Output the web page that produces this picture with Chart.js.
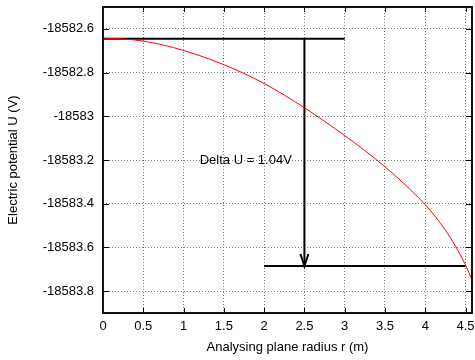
<!DOCTYPE html>
<html><head><meta charset="utf-8">
<script src="https://cdn.jsdelivr.net/npm/chart.js@4/dist/chart.umd.min.js"></script>
<style>html,body{margin:0;padding:0;background:#fff}#wrap{width:475px;height:360px}</style>
</head><body><div id="wrap"><canvas id="c" width="475" height="360"></canvas></div>
<script>
const radius = [0, 0.25, 0.5, 0.75, 1, 1.25, 1.5, 1.75, 2, 2.25, 2.5, 2.75, 3, 3.25, 3.5, 3.75, 4, 4.125, 4.25, 4.375, 4.5, 4.58];
const potential = [-18582.643, -18582.646, -18582.656, -18582.674, -18582.699, -18582.729, -18582.764, -18582.804, -18582.850, -18582.903, -18582.961, -18583.023, -18583.088, -18583.157, -18583.231, -18583.313, -18583.405, -18583.459, -18583.521, -18583.594, -18583.681, -18583.747];
const xTicks = [0, 0.5, 1, 1.5, 2, 2.5, 3, 3.5, 4, 4.5];
const yTicks = [-18583.8, -18583.6, -18583.4, -18583.2, -18583.0, -18582.8, -18582.6];
const xRange = [0, 4.58];
const yRange = [-18583.9, -18582.5];
const topLineX = [0, 3];
const topLineY = -18582.645;
const bottomLineX = [2, 4.5];
const bottomLineY = -18583.685;
const arrowX = 2.5;
const annotationText = 'Delta U = 1.04V';
const annotationX = 1.2;
const annotationY = -18583.2;
const xTitle = 'Analysing plane radius r (m)';
const yTitle = 'Electric potential U (V)';

const FONT = '"Liberation Sans", Arial, Helvetica, sans-serif';
Chart.defaults.font.family = FONT;
Chart.defaults.font.size = 13;
Chart.defaults.color = '#000';

const curve = radius.map((r, i) => ({x: r, y: potential[i]}));
const topLine = topLineX.map(x => ({x, y: topLineY}));
const bottomLine = bottomLineX.map(x => ({x, y: bottomLineY}));
const arrowLine = [{x: arrowX, y: topLineY}, {x: arrowX, y: bottomLineY}];

const extras = {
  id: 'extras',
  afterDatasetsDraw(chart) {
    const {ctx, scales: {x, y}} = chart;
    ctx.save();
    const tx = x.getPixelForValue(arrowX), ty = y.getPixelForValue(bottomLineY);
    ctx.strokeStyle = '#000'; ctx.lineWidth = 2;
    ctx.beginPath();
    ctx.moveTo(tx - 4, ty - 12); ctx.lineTo(tx, ty); ctx.lineTo(tx + 4, ty - 12);
    ctx.stroke();
    ctx.fillStyle = '#000';
    ctx.font = '13px ' + FONT;
    ctx.textAlign = 'left'; ctx.textBaseline = 'middle';
    ctx.fillText(annotationText, x.getPixelForValue(annotationX), y.getPixelForValue(annotationY));
    ctx.restore();
  },
  afterDraw(chart) {
    const {ctx, chartArea: a, scales: {x, y}} = chart;
    ctx.save();
    ctx.strokeStyle = '#000'; ctx.lineWidth = 1;
    ctx.beginPath();
    xTicks.forEach(v => {
      const p = Math.round(x.getPixelForValue(v)) + 0.5;
      ctx.moveTo(p, a.bottom); ctx.lineTo(p, a.bottom - 5);
      ctx.moveTo(p, a.top); ctx.lineTo(p, a.top + 5);
    });
    yTicks.forEach(v => {
      const p = Math.round(y.getPixelForValue(v)) + 0.5;
      ctx.moveTo(a.left, p); ctx.lineTo(a.left + 6, p);
      ctx.moveTo(a.right, p); ctx.lineTo(a.right - 6, p);
    });
    ctx.stroke();
    ctx.lineWidth = 2; ctx.strokeStyle = '#111';
    ctx.strokeRect(a.left, a.top, a.right - a.left, a.bottom - a.top);
    ctx.restore();
  }
};

new Chart(document.getElementById('c'), {
  type: 'line',
  data: {
    datasets: [
      {data: curve, borderColor: '#ff0000', borderWidth: 1, pointRadius: 0, cubicInterpolationMode: 'monotone', fill: false},
      {data: topLine, borderColor: '#000', borderWidth: 2, pointRadius: 0, fill: false},
      {data: bottomLine, borderColor: '#000', borderWidth: 2, pointRadius: 0, fill: false},
      {data: arrowLine, borderColor: '#000', borderWidth: 2, pointRadius: 0, fill: false}
    ]
  },
  options: {
    responsive: false, animation: false, devicePixelRatio: 1,
    layout: {padding: {top: 7, right: 3, left: 0, bottom: 0}},
    plugins: {legend: {display: false}, tooltip: {enabled: false}},
    scales: {
      x: {
        type: 'linear', min: xRange[0], max: xRange[1],
        afterBuildTicks: s => { s.ticks = xTicks.map(v => ({value: v})); },
        afterFit: s => { s.height = 47; s.paddingLeft = 0; s.paddingRight = 0; },
        ticks: {padding: 6, autoSkip: false, maxRotation: 0, callback: v => String(v)},
        grid: {color: '#777', drawTicks: false, lineWidth: 1},
        border: {display: false, dash: [1, 2]},
        title: {display: true, text: xTitle, font: {size: 13, lineHeight: 1}, padding: {top: 0, bottom: 6.5}}
      },
      y: {
        type: 'linear', min: yRange[0], max: yRange[1],
        afterBuildTicks: s => { s.ticks = yTicks.map(v => ({value: v})); },
        afterFit: s => { s.width = 103; s.paddingTop = 0; s.paddingBottom = 0; },
        ticks: {padding: 9, autoSkip: false, callback: v => String(Number(v.toFixed(1)))},
        grid: {color: '#777', drawTicks: false, lineWidth: 1},
        border: {display: false, dash: [1, 2]},
        title: {display: true, text: yTitle, font: {size: 13, lineHeight: 1}, padding: {top: 6.5, bottom: 0}}
      }
    }
  },
  plugins: [extras]
});
</script></body></html>
